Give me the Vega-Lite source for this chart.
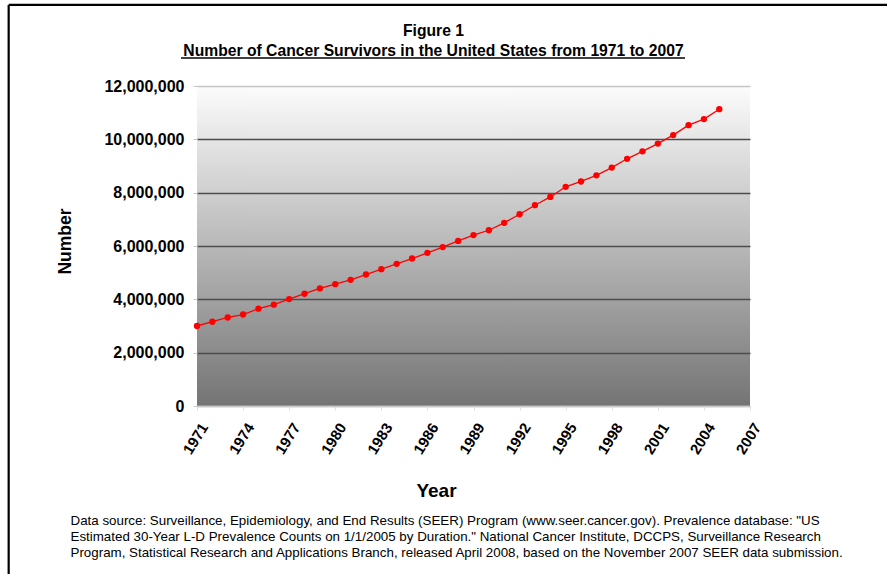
{
  "$schema": "https://vega.github.io/schema/vega-lite/v6.json",
  "width": 553,
  "height": 320,
  "autosize": {"type": "none"},
  "padding": {"left": 197, "top": 86, "right": 137, "bottom": 168},
  "background": "white",
  "config": {
    "font": "Liberation Sans",
    "view": {
      "stroke": null,
      "fill": {"gradient": "linear", "x1": 0, "y1": 0, "x2": 0, "y2": 1,
        "stops": [{"offset": 0, "color": "#fcfcfc"}, {"offset": 1, "color": "#747474"}]}
    }
  },
  "data": {
    "values": [
      {"year": 1971, "survivors": 3000000},
      {"year": 1972, "survivors": 3160000},
      {"year": 1973, "survivors": 3320000},
      {"year": 1974, "survivors": 3430000},
      {"year": 1975, "survivors": 3650000},
      {"year": 1976, "survivors": 3800000},
      {"year": 1977, "survivors": 4010000},
      {"year": 1978, "survivors": 4210000},
      {"year": 1979, "survivors": 4410000},
      {"year": 1980, "survivors": 4570000},
      {"year": 1981, "survivors": 4730000},
      {"year": 1982, "survivors": 4930000},
      {"year": 1983, "survivors": 5130000},
      {"year": 1984, "survivors": 5330000},
      {"year": 1985, "survivors": 5530000},
      {"year": 1986, "survivors": 5740000},
      {"year": 1987, "survivors": 5960000},
      {"year": 1988, "survivors": 6190000},
      {"year": 1989, "survivors": 6410000},
      {"year": 1990, "survivors": 6590000},
      {"year": 1991, "survivors": 6870000},
      {"year": 1992, "survivors": 7190000},
      {"year": 1993, "survivors": 7530000},
      {"year": 1994, "survivors": 7840000},
      {"year": 1995, "survivors": 8220000},
      {"year": 1996, "survivors": 8420000},
      {"year": 1997, "survivors": 8650000},
      {"year": 1998, "survivors": 8940000},
      {"year": 1999, "survivors": 9270000},
      {"year": 2000, "survivors": 9550000},
      {"year": 2001, "survivors": 9840000},
      {"year": 2002, "survivors": 10160000},
      {"year": 2003, "survivors": 10530000},
      {"year": 2004, "survivors": 10760000},
      {"year": 2005, "survivors": 11130000}
    ]
  },
  "resolve": {"axis": {"x": "independent", "y": "independent"}},
  "layer": [
    {
      "mark": {"type": "line", "color": "#ff0000", "strokeWidth": 1.3,
        "point": {"filled": true, "color": "#ff0000", "size": 40, "opacity": 1}},
      "encoding": {
        "x": {
          "field": "year", "type": "quantitative",
          "scale": {"domain": [1971, 2007], "nice": false, "zero": false},
          "axis": {
            "orient": "bottom",
            "values": [1971, 1974, 1977, 1980, 1983, 1986, 1989, 1992, 1995, 1998, 2001, 2004, 2007],
            "format": "d",
            "labelAngle": -58,
            "labelFontSize": 15,
            "labelFontWeight": "bold",
            "labelColor": "black",
            "labelPadding": 14,
            "labelOffset": 7,
            "labelFlush": false,
            "labelOverlap": false,
            "tickSize": 4,
            "tickColor": "#e0e0e0",
            "domainColor": "#c8c8c8",
            "domainWidth": 1.5,
            "grid": false,
            "title": "Year",
            "titleFontSize": 19,
            "titleFontWeight": "bold",
            "titleColor": "black",
            "titleX": 239,
            "titleY": 84,
            "titleBaseline": "middle",
            "titleAlign": "center"
          }
        },
        "y": {
          "field": "survivors", "type": "quantitative",
          "scale": {"domain": [0, 12000000], "nice": false},
          "axis": {
            "values": [0, 2000000, 4000000, 6000000, 8000000, 10000000, 12000000],
            "format": ",d",
            "labelFontSize": 16,
            "labelFontWeight": "bold",
            "labelColor": "black",
            "labelPadding": 9,
            "tickSize": 4,
            "tickColor": "#c8c8c8",
            "domain": false,
            "grid": true,
            "gridColor": {"condition": {"test": "datum.value == 0 || datum.value == 12000000", "value": "#c4c4c4"}, "value": "#4d4d4d"},
            "gridWidth": 1.5,
            "gridOpacity": 1,
            "title": "Number",
            "titleFontSize": 17.5,
            "titleFontWeight": "bold",
            "titleColor": "black",
            "titleX": -132,
            "titleY": 155,
            "titleAngle": -90,
            "titleBaseline": "middle",
            "titleAlign": "center"
          }
        }
      }
    },
    {
      "data": {"values": [{}]},
      "mark": {"type": "rule", "color": "black", "strokeWidth": 1.3},
      "encoding": {
        "x": {
          "datum": 1969.96, "type": "quantitative",
          "scale": {"domain": [1971, 2007], "nice": false, "zero": false},
          "axis": {
            "orient": "bottom",
            "labels": false,
            "ticks": false,
            "domain": false,
            "grid": false,
            "title": [
              "Data source: Surveillance, Epidemiology, and End Results (SEER) Program (www.seer.cancer.gov). Prevalence database: \"US",
              "Estimated 30-Year L-D Prevalence Counts on 1/1/2005 by Duration.\" National Cancer Institute, DCCPS, Surveillance Research",
              "Program, Statistical Research and Applications Branch, released April 2008, based on the November 2007 SEER data submission."
            ],
            "titleFontSize": 13.35,
            "titleFontWeight": "normal",
            "titleColor": "black",
            "titleAnchor": "start",
            "titleAlign": "left",
            "titleAngle": 0,
            "titleX": -127,
            "titleY": 107,
            "titleBaseline": "top",
            "titleLineHeight": 16
          }
        },
        "x2": {"datum": 2002.77},
        "y": {"datum": 13050000, "type": "quantitative", "scale": {"domain": [0, 12000000], "nice": false}, "axis": null}
      }
    },
    {
      "data": {"values": [{}]},
      "mark": {"type": "rule", "color": "black", "strokeWidth": 2.2},
      "encoding": {
        "x": {"datum": 1958.74, "type": "quantitative", "scale": {"domain": [1971, 2007], "nice": false, "zero": false}, "axis": null},
        "y": {"datum": 15040000, "type": "quantitative", "scale": {"domain": [0, 12000000], "nice": false}, "axis": null},
        "y2": {"datum": -7000000}
      }
    },
    {
      "data": {"values": [{}]},
      "mark": {"type": "rule", "color": "black", "strokeWidth": 2.2},
      "encoding": {
        "x": {
          "datum": 1958.74, "type": "quantitative",
          "scale": {"domain": [1971, 2007], "nice": false, "zero": false},
          "axis": {
            "orient": "top",
            "labels": false,
            "ticks": false,
            "domain": false,
            "grid": false,
            "title": ["Figure 1", "Number of Cancer Survivors in the United States from 1971 to 2007"],
            "titleFontSize": 15.7,
            "titleFontWeight": "bold",
            "titleColor": "black",
            "titleAlign": "center",
            "titleAngle": 0,
            "titleX": 236,
            "titleY": -51,
            "titleBaseline": "alphabetic",
            "titleLineHeight": 20.8
          }
        },
        "x2": {"datum": 2018},
        "y": {"datum": 15040000, "type": "quantitative", "scale": {"domain": [0, 12000000], "nice": false}, "axis": null}
      }
    }
  ]
}
